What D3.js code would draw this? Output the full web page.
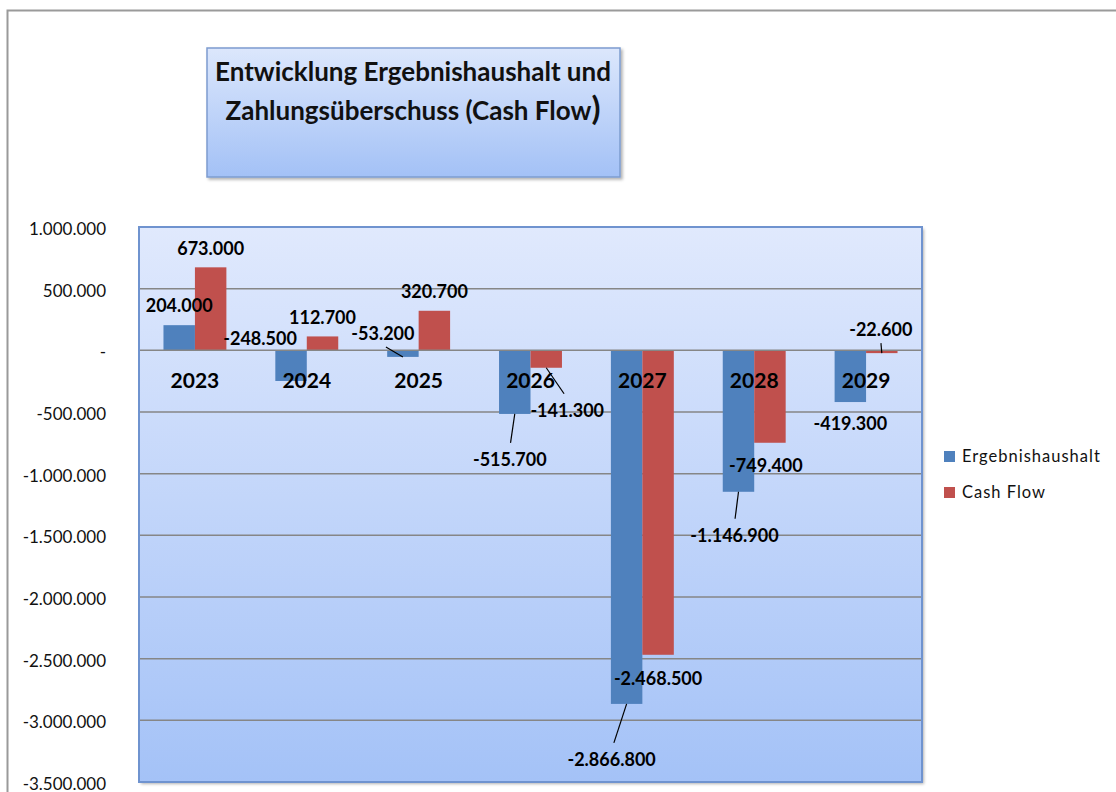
<!DOCTYPE html>
<html lang="de">
<head>
<meta charset="utf-8">
<title>Entwicklung Ergebnishaushalt und Zahlungsüberschuss (Cash Flow)</title>
<script src="https://cdn.jsdelivr.net/npm/d3@7"></script>
<style>
  html, body { margin: 0; padding: 0; background: #fff; }
  svg { display: block; font-family: Lato, "Open Sans", sans-serif; }
</style>
</head>
<body>
<div id="chart"></div>
<script>
"use strict";

// values
var years = ["2023", "2024", "2025", "2026", "2027", "2028", "2029"];
var seriesNames = ["Ergebnishaushalt", "Cash Flow"];
var ergebnishaushalt = [204000, -248500, -53200, -515700, -2866800, -1146900, -419300];
var cashFlow = [673000, 112700, 320700, -141300, -2468500, -749400, -22600];
var yTicks = [1000000, 500000, 0, -500000, -1000000, -1500000, -2000000, -2500000, -3000000, -3500000];
var titleLines = ["Entwicklung Ergebnishaushalt und", "Zahlungsüberschuss (Cash Flow"];

// labels that were dragged away from their default spot: [dx, dy, leader line]
var labelMoves = {
    "Ergebnishaushalt": [[0, 0, false], [-31, -61, false], [-20, -42, true], [-5, 27, true],
        [-15, 37, true], [-4, 25, true], [0, 3, false]],
    "Cash Flow": [[0, 0, false], [0, 0, false], [0, 0, false], [21, 24, true],
        [0, 5, false], [-4, 4, false], [-1, -42, true]]
};

var colors = { "Ergebnishaushalt": "#4f81bd", "Cash Flow": "#c0504d" };

var width = 1116,
    height = 792,
    plot = { left: 139, right: 922, top: 227, bottom: 782 };

var locale = d3.formatLocale({ decimal: ",", thousands: ".", grouping: [3], currency: ["", ""], minus: "-" });
var fmt = function(v) {
    return v === 0 ? "-" : locale.format(",.0f")(v);
};

var rows = years.map(function(yr, i) {
    return { year: yr, i: i, values: [
        { name: seriesNames[0], value: ergebnishaushalt[i] },
        { name: seriesNames[1], value: cashFlow[i] }
    ] };
});

var svg = d3.select("#chart").append("svg")
    .attr("width", width)
    .attr("height", height);

var defs = svg.append("defs");

function addGradient(id, top, bottom) {
    var g = defs.append("linearGradient")
        .attr("id", id)
        .attr("x1", 0).attr("y1", 0)
        .attr("x2", 0).attr("y2", 1);
    g.append("stop").attr("offset", "0%").attr("stop-color", top);
    g.append("stop").attr("offset", "100%").attr("stop-color", bottom);
}
addGradient("plotFill", "#e0e9fd", "#a4c2f7");
addGradient("titleFill", "#dce7fc", "#a3c1f6");

defs.append("filter")
    .attr("id", "shadow")
    .attr("x", "-5%").attr("y", "-5%")
    .attr("width", "110%").attr("height", "110%")
    .append("feDropShadow")
    .attr("dx", 2).attr("dy", 2)
    .attr("stdDeviation", 1.5)
    .attr("flood-color", "#000")
    .attr("flood-opacity", 0.3);

// outer chart frame
svg.append("rect")
    .attr("x", 7.5).attr("y", 10.5)
    .attr("width", width + 20).attr("height", height + 20)
    .attr("fill", "none")
    .attr("stroke", "#9a9a9a")
    .attr("stroke-width", 2);

// title box
svg.append("rect")
    .attr("x", 207).attr("y", 48)
    .attr("width", 413).attr("height", 129)
    .attr("fill", "url(#titleFill)")
    .attr("stroke", "#7d9ccf")
    .attr("stroke-width", 1.5)
    .attr("filter", "url(#shadow)");

var title = svg.append("text")
    .attr("text-anchor", "middle")
    .attr("font-size", "26px")
    .attr("font-weight", "bold")
    .attr("fill", "#111");
title.append("tspan")
    .attr("x", 413).attr("y", 81)
    .text(titleLines[0]);
title.append("tspan")
    .attr("x", 413).attr("y", 120)
    .text(titleLines[1])
    .append("tspan")
    .attr("font-size", "33px")
    .text(")");

// scales
var x0 = d3.scaleBand()
    .domain(years)
    .range([plot.left, plot.right])
    .paddingInner(0.4375)
    .paddingOuter(0.21875);

var x1 = d3.scaleBand()
    .domain(seriesNames)
    .range([0, x0.bandwidth()]);

var y = d3.scaleLinear()
    .domain([-3500000, 1000000])
    .range([plot.bottom, plot.top]);

// plot area
svg.append("rect")
    .attr("x", plot.left).attr("y", plot.top)
    .attr("width", plot.right - plot.left)
    .attr("height", plot.bottom - plot.top)
    .attr("fill", "url(#plotFill)")
    .attr("filter", "url(#shadow)");

svg.append("g")
    .attr("class", "grid")
    .selectAll("line")
    .data(yTicks.filter(function(t) { return t !== 0 && t > -3500000 && t < 1000000; }))
    .enter()
    .append("line")
    .attr("x1", plot.left).attr("x2", plot.right)
    .attr("y1", function(d) { return y(d); })
    .attr("y2", function(d) { return y(d); })
    .attr("stroke", "#868686")
    .attr("stroke-width", 1.5);

// bars
var groups = svg.append("g")
    .selectAll("g")
    .data(rows)
    .enter()
    .append("g")
    .attr("transform", function(d) { return "translate(" + x0(d.year) + ",0)"; });

groups.selectAll("rect")
    .data(function(d) { return d.values; })
    .enter()
    .append("rect")
    .attr("x", function(d) { return x1(d.name); })
    .attr("y", function(d) { return y(Math.max(0, d.value)); })
    .attr("width", x1.bandwidth())
    .attr("height", function(d) { return Math.abs(y(d.value) - y(0)); })
    .attr("fill", function(d) { return colors[d.name]; });

// zero line
svg.append("line")
    .attr("x1", plot.left).attr("x2", plot.right)
    .attr("y1", y(0)).attr("y2", y(0))
    .attr("stroke", "#868686")
    .attr("stroke-width", 1.5);

// plot border
svg.append("rect")
    .attr("x", plot.left).attr("y", plot.top)
    .attr("width", plot.right - plot.left)
    .attr("height", plot.bottom - plot.top)
    .attr("fill", "none")
    .attr("stroke", "#6f93cf")
    .attr("stroke-width", 2);

// y axis
var yAxis = svg.append("g")
    .attr("transform", "translate(" + plot.left + ",2)")
    .call(d3.axisLeft(y).tickValues(yTicks).tickFormat(fmt).tickSize(0).tickPadding(33));
yAxis.select(".domain").remove();
yAxis.selectAll("text")
    .attr("font-family", "Lato, 'Open Sans', sans-serif")
    .attr("font-size", "17px")
    .attr("fill", "#111");

// category labels, sitting below the zero line
var xAxis = svg.append("g")
    .attr("transform", "translate(0," + y(0) + ")")
    .call(d3.axisBottom(x0).tickSize(0).tickPadding(23));
xAxis.select(".domain").remove();
xAxis.selectAll("text")
    .attr("font-family", "Lato, 'Open Sans', sans-serif")
    .attr("font-size", "21px")
    .attr("font-weight", "bold")
    .attr("fill", "#000");

// data labels
var labels = [];
rows.forEach(function(r) {
    r.values.forEach(function(v) {
        var move = labelMoves[v.name][r.i],
            cx = x0(r.year) + x1(v.name) + x1.bandwidth() / 2,
            endY = y(v.value),
            baseY = v.value >= 0 ? endY - 19 : endY + 19;
        labels.push({
            text: fmt(v.value),
            barX: cx,
            barY: endY,
            x: cx + move[0],
            y: baseY + move[1],
            leader: move[2]
        });
    });
});

var labelLayer = svg.append("g");

labelLayer.selectAll("line")
    .data(labels.filter(function(d) { return d.leader; }))
    .enter()
    .append("line")
    .attr("x1", function(d) { return d.barX; })
    .attr("y1", function(d) { return d.barY; })
    .attr("x2", function(d) {
        return d.barX + (d.x - d.barX) * 0.85;
    })
    .attr("y2", function(d) {
        var below = d.y > d.barY;
        return below ? d.y - 17 : d.y + 13;
    })
    .attr("stroke", "#000")
    .attr("stroke-width", 1.2);

labelLayer.selectAll("text")
    .data(labels)
    .enter()
    .append("text")
    .attr("x", function(d) { return d.x; })
    .attr("y", function(d) { return d.y; })
    .attr("dy", "0.35em")
    .attr("text-anchor", "middle")
    .attr("font-size", "18px")
    .attr("font-weight", "bold")
    .attr("fill", "#000")
    .text(function(d) { return d.text; });

// legend
var legend = svg.append("g")
    .attr("class", "legend")
    .attr("transform", "translate(944,451)");

legend.selectAll("rect")
    .data(seriesNames)
    .enter()
    .append("rect")
    .attr("x", 0)
    .attr("y", function(d, i) { return i * 36; })
    .attr("width", 11)
    .attr("height", 11)
    .attr("fill", function(d) { return colors[d]; });

legend.selectAll("text")
    .data(seriesNames)
    .enter()
    .append("text")
    .attr("x", 18)
    .attr("y", function(d, i) { return i * 36 + 5.5; })
    .attr("dy", "0.35em")
    .attr("font-size", "16.5px")
    .attr("letter-spacing", "1px")
    .attr("fill", "#111")
    .text(function(d) { return d; });
</script>
</body>
</html>
